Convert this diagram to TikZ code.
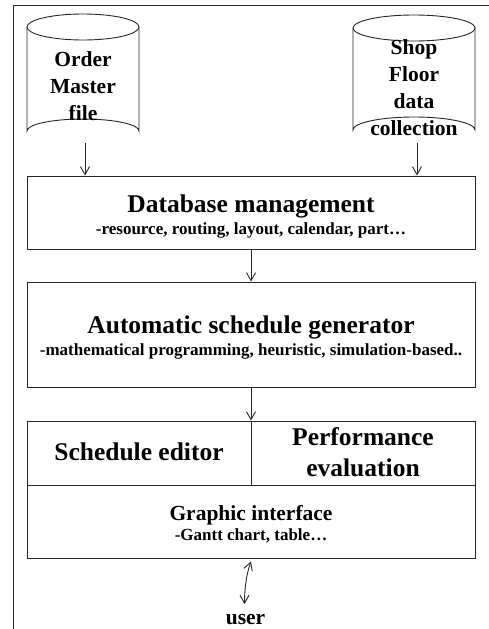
\documentclass[tikz,border=0pt]{standalone}
\usepackage{fontspec}
\setmainfont{Liberation Serif}
\usetikzlibrary{arrows.meta,calc}
\begin{document}
\begin{tikzpicture}[x=1pt,y=-1pt,
  line/.style={draw=black!85,line width=0.9pt},
  flow/.style={line,-{Straight Barb[length=8pt,width=9pt]}},
  dflow/.style={line,{Straight Barb[length=8pt,width=9pt]}-{Straight Barb[length=8pt,width=9pt]}},
  box/.style={line,rectangle,inner sep=0pt},
  txt/.style={inner sep=0pt,anchor=base,align=center,text=black},
  title/.style={txt,font=\fontsize{25.5}{31.7}\selectfont\bfseries},
  mid/.style={txt,font=\fontsize{21.5}{26.8}\selectfont\bfseries},
  sub/.style={txt,font=\fontsize{17}{20}\selectfont\bfseries}]
  \useasboundingbox (0,0) rectangle (489,629);

  % outer frame (top and left edges)
  \draw[line] (489,5) -- (13,5) -- (13,629);

  % data stores
  \draw[line] (27,27) -- (27,131) arc[start angle=180,end angle=360,x radius=56,y radius=12] -- (139,27);
  \draw[line] (83,27) ellipse [x radius=56,y radius=13];
  \draw[line] (353,28) -- (353,130) arc[start angle=180,end angle=360,x radius=61,y radius=13] -- (475,28);
  \draw[line] (414,28) ellipse [x radius=61,y radius=13];
  % multi-line labels sit on the baseline of their last line
  \node[mid] (order) at (83,120) {Order\\Master\\file};
  \node[mid] (shop) at (414,135) {Shop\\Floor\\data\\collection};
  \coordinate (orderbot) at (85,143);
  \coordinate (shopbot) at (417,143);

  % processing boxes
  \node[box,minimum width=448pt,minimum height=73pt] (db) at (251,212.5) {};
  \node[title] (dbt) at (251,212) {Database management};
  \node[sub] (dbs) at (251,234) {-resource, routing, layout, calendar, part…};

  \node[box,minimum width=448pt,minimum height=105pt] (gen) at (251,334.5) {};
  \node[title] (gent) at (251,333) {Automatic schedule generator};
  \node[sub] (gens) at (251,355) {-mathematical programming, heuristic, simulation-based..};

  \node[box,minimum width=224pt,minimum height=64pt] (ed) at (139,453) {};
  \node[box,minimum width=224pt,minimum height=64pt] (perf) at (363,453) {};
  \node[box,minimum width=448pt,minimum height=73pt] (gui) at (251,521.5) {};
  \node[title] (edt) at (139,460) {Schedule editor};
  \node[title] (perft) at (363,476.7) {Performance\\evaluation};
  \node[mid] (guit) at (251,520) {Graphic interface};
  \node[sub] (guis) at (251,540.7) {-Gantt chart, table…};

  \node[mid,anchor=base] (user) at (245.5,624.5) {user};

  % connectors
  \draw[flow] (orderbot) -- (orderbot |- db.north);
  \draw[flow] (shopbot) -- (shopbot |- db.north);
  \draw[flow] (db.south) -- (gen.north);
  \draw[flow] (gen.south) -- (gen.south |- ed.north);
  \draw[dflow] ($(gui.south)+(0,3)$) .. controls +(-5,14) and +(0,-14) .. ($(user.north)+(-1,-10)$);
\end{tikzpicture}
\end{document}
